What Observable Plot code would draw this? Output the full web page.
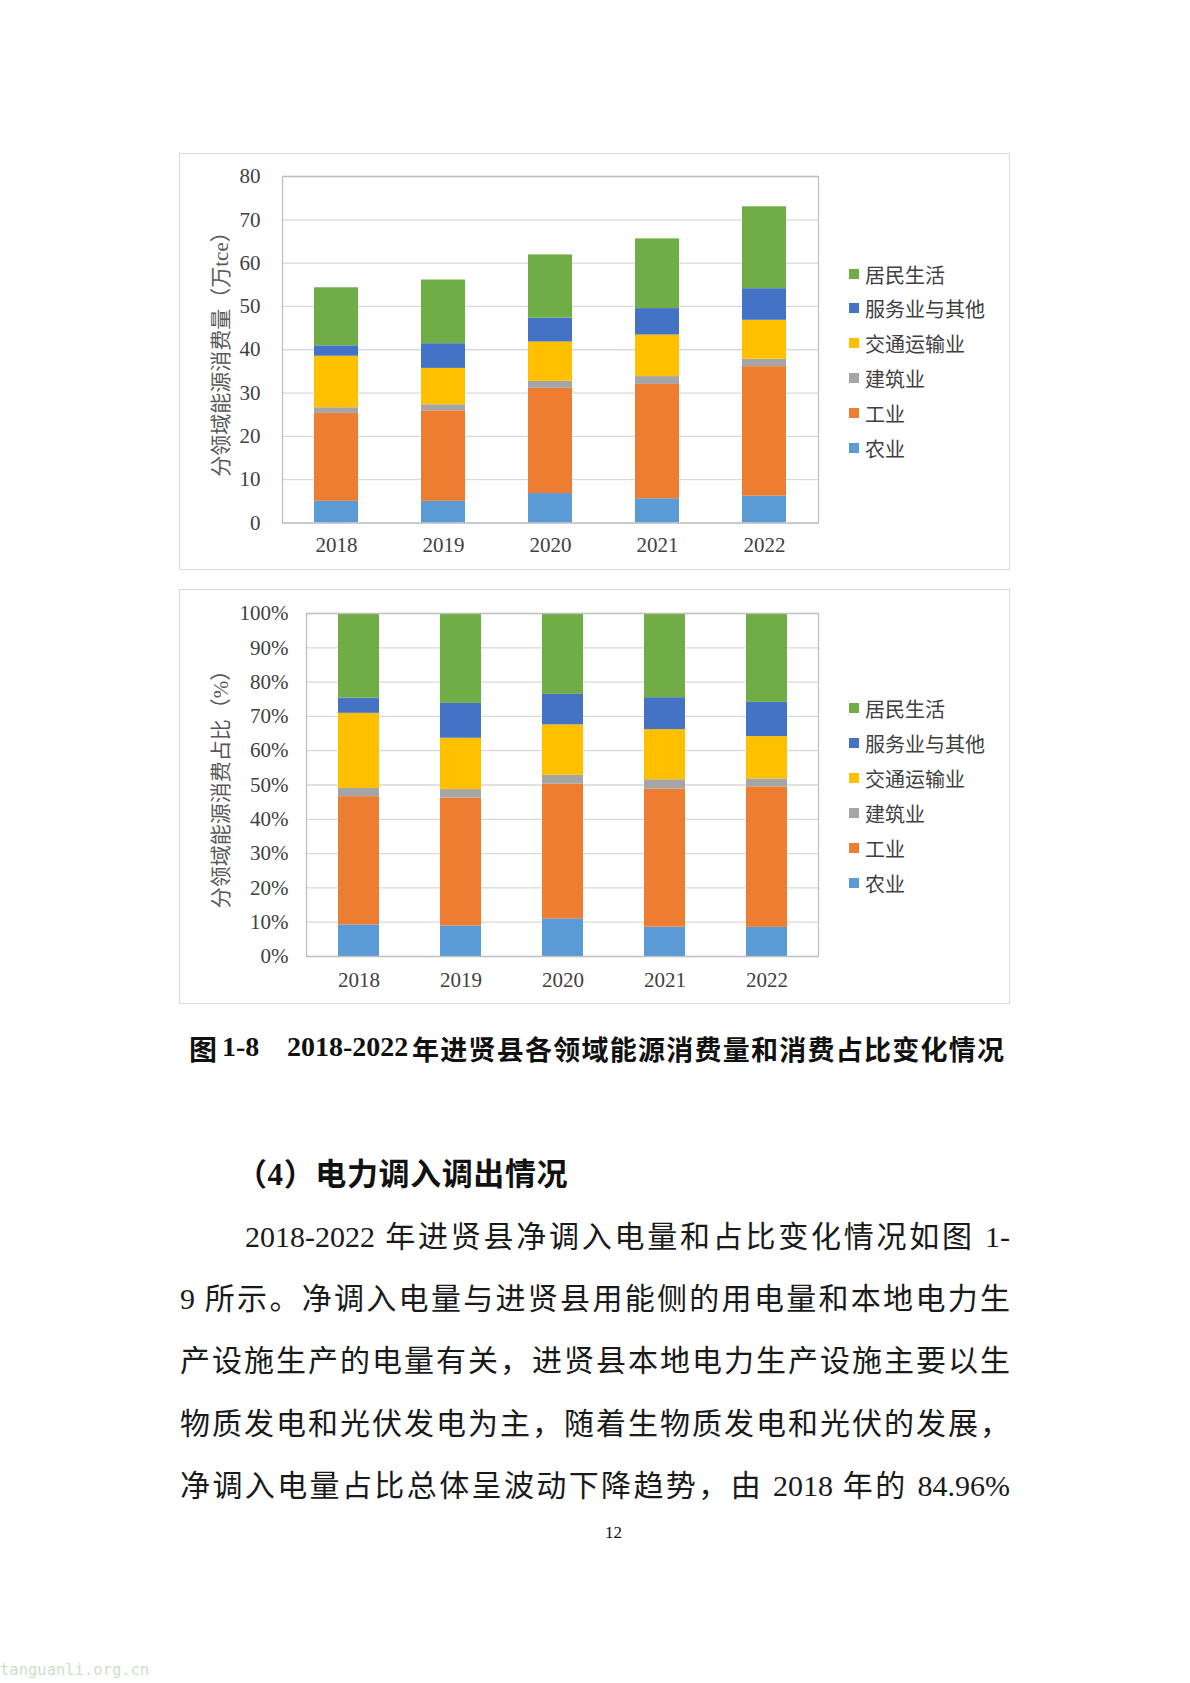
<!DOCTYPE html>
<html>
<head>
<meta charset="utf-8">
<script src="https://cdn.jsdelivr.net/npm/d3@7"></script>
<script src="https://cdn.jsdelivr.net/npm/@observablehq/plot@0.6"></script>
<style>
  html, body { margin: 0; padding: 0; background: #fff; }
  #page { position: relative; width: 1190px; height: 1683px; background: #fff; overflow: hidden;
          font-family: "Liberation Serif", "Noto Sans CJK SC", serif; color: #111; }
  .frame { position: absolute; border: 1.5px solid #d9d9d9; box-sizing: border-box; background: #fff; }
  .frame svg { position: absolute; left: 0; top: 0; }
  .ylab { position: absolute; white-space: nowrap; font-size: 21px; color: #595959;
          font-family: "Liberation Serif", "Noto Sans CJK SC", serif;
          transform: translate(-50%, -50%) rotate(-90deg); }
  .legend { position: absolute; font-size: 20px; color: #404040; font-family: "Noto Sans CJK SC", sans-serif; }
  .legend .row { position: absolute; left: 0; white-space: nowrap; display: flex; align-items: center; height: 24px; transform: translateY(-50%); }
  .legend .sw { width: 10px; height: 10px; margin-right: 6px; display: inline-block; }
  .abs { position: absolute; white-space: nowrap; }
  .para { position: absolute; left: 180px; width: 830px; font-size: 30px; text-align: justify; text-align-last: justify;
          font-family: "Liberation Serif", "Noto Sans CJK SC", serif; color: #1a1a1a; white-space: nowrap; }
</style>
</head>
<body>
<div id="page">
  <div class="frame" id="f1" style="left:179px; top:153px; width:831px; height:417px;"></div>
  <div class="frame" id="f2" style="left:179px; top:589px; width:831px; height:415px;"></div>
  <div class="ylab" style="left:219px; top:349px;">分领域能源消费量（万tce）</div>
  <div class="ylab" style="left:219px; top:784px;">分领域能源消费占比（%）</div>

  <div class="abs" style="left:189px; top:1028px; font-size:28px; font-weight:bold; font-family:'Noto Sans CJK SC',sans-serif;">图</div>
  <div class="abs" style="left:222px; top:1028px; font-size:28px; font-weight:bold; font-family:'Liberation Serif',serif; line-height:38px;">1-8</div>
  <div class="abs" style="left:287px; top:1028px; font-size:28px; font-weight:bold; font-family:'Liberation Serif',serif; line-height:38px;">2018-2022</div>
  <div class="abs" style="left:412px; top:1029px; font-size:27px; font-weight:bold; letter-spacing:1.25px; font-family:'Noto Sans CJK SC',sans-serif;">年进贤县各领域能源消费量和消费占比变化情况</div>

  <div class="abs" style="left:236px; top:1149px; font-size:31px; font-weight:bold; letter-spacing:0.6px; font-family:'Liberation Serif','Noto Sans CJK SC',serif;">（4）电力调入调出情况</div>

  <div class="para" style="top:1212px; left:245px; width:765px;">2018-2022 年进贤县净调入电量和占比变化情况如图 1-</div>
  <div class="para" style="top:1274px;">9 所示。净调入电量与进贤县用能侧的用电量和本地电力生</div>
  <div class="para" style="top:1336px;">产设施生产的电量有关，进贤县本地电力生产设施主要以生</div>
  <div class="para" style="top:1399px;">物质发电和光伏发电为主，随着生物质发电和光伏的发展，</div>
  <div class="para" style="top:1461px;">净调入电量占比总体呈波动下降趋势，由 2018 年的 84.96%</div>

  <div class="abs" style="left:605px; top:1523px; font-size:17px; font-family:'Liberation Serif',serif;">12</div>
  <div class="abs" style="left:0px; top:1661px; font-size:15.5px; color:#cfdfc6; font-family:'DejaVu Sans Mono',monospace;">tanguanli.org.cn</div>
</div>
<script>
const years = ["2018", "2019", "2020", "2021", "2022"];
const sectors = ["农业", "工业", "建筑业", "交通运输业", "服务业与其他", "居民生活"];
const sectorColors = ["#5B9BD5", "#ED7D31", "#A5A5A5", "#FFC000", "#4472C4", "#70AD47"];
// 万tce
const agriculture  = [5.0, 5.0, 6.8, 5.6, 6.2];
const industry     = [20.3, 20.9, 24.3, 26.4, 29.9];
const construction = [1.3, 1.4, 1.6, 1.8, 1.7];
const transport    = [11.9, 8.4, 9.1, 9.6, 9.0];
const services     = [2.4, 5.7, 5.5, 6.1, 7.3];
const residential  = [13.4, 14.7, 14.6, 16.1, 18.9];
const absTicks = [0, 10, 20, 30, 40, 50, 60, 70, 80];
const pctTicks = [0, 0.1, 0.2, 0.3, 0.4, 0.5, 0.6, 0.7, 0.8, 0.9, 1.0];
const legendOrder = ["居民生活", "服务业与其他", "交通运输业", "建筑业", "工业", "农业"];

const series = [agriculture, industry, construction, transport, services, residential];
const rows = [];
years.forEach((yr, i) => sectors.forEach((s, j) => rows.push({year: yr, sector: s, value: series[j][i]})));

const axisStyle = {fontFamily: "'Liberation Serif', serif", fontSize: "21px", color: "#404040", background: "transparent", overflow: "visible"};

const chart1 = Plot.plot({
  width: 645, height: 417,
  marginLeft: 102, marginRight: 7, marginTop: 22, marginBottom: 48.5,
  style: axisStyle,
  x: {domain: years, paddingInner: 0.59, paddingOuter: 0.295, label: null, tickSize: 0, tickPadding: 14},
  y: {domain: [0, 80], ticks: absTicks, label: null, tickSize: 0, tickPadding: 22},
  color: {domain: sectors, range: sectorColors},
  marks: [
    Plot.ruleY(absTicks, {stroke: "#d9d9d9", strokeWidth: 1.3}),
    Plot.barY(rows, {x: "year", y: "value", fill: "sector", order: sectors}),
    Plot.frame({stroke: "#bfbfbf", strokeWidth: 1.3})
  ]
});
document.getElementById("f1").appendChild(chart1);

const chart2 = Plot.plot({
  width: 645, height: 415,
  marginLeft: 126, marginRight: 7, marginTop: 23, marginBottom: 49,
  style: axisStyle,
  x: {domain: years, paddingInner: 0.6, paddingOuter: 0.3, label: null, tickSize: 0, tickPadding: 16},
  y: {domain: [0, 1], ticks: pctTicks, tickFormat: d3.format(".0%"), label: null, tickSize: 0, tickPadding: 18},
  color: {domain: sectors, range: sectorColors},
  marks: [
    Plot.ruleY(pctTicks, {stroke: "#d9d9d9", strokeWidth: 1.3}),
    Plot.barY(rows, {x: "year", y: "value", fill: "sector", order: sectors, offset: "normalize"}),
    Plot.frame({stroke: "#bfbfbf", strokeWidth: 1.3})
  ]
});
document.getElementById("f2").appendChild(chart2);

function addLegend(frameId, rowTops) {
  const lg = document.createElement("div");
  lg.className = "legend";
  lg.style.left = "669px";
  lg.style.top = "0px";
  legendOrder.forEach((s, i) => {
    const r = document.createElement("div");
    r.className = "row";
    r.style.top = rowTops[i] + "px";
    const sw = document.createElement("span");
    sw.className = "sw";
    sw.style.background = sectorColors[sectors.indexOf(s)];
    r.appendChild(sw);
    r.appendChild(document.createTextNode(s));
    lg.appendChild(r);
  });
  document.getElementById(frameId).appendChild(lg);
}
addLegend("f1", [120, 154, 189, 224, 259, 294]);
addLegend("f2", [118, 153, 188, 223, 258, 293]);
</script>
</body>
</html>
